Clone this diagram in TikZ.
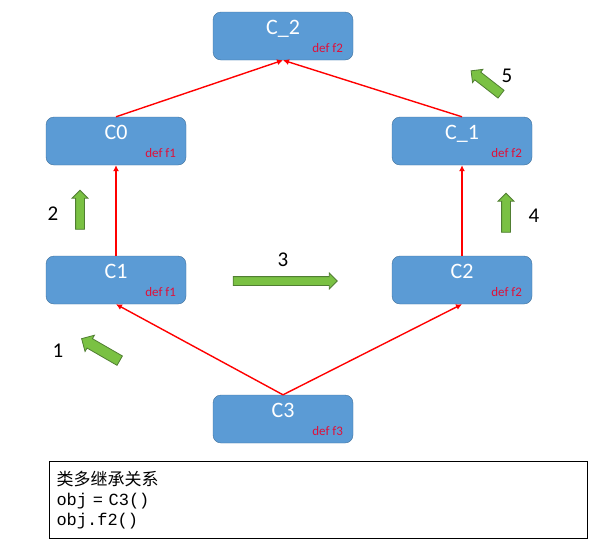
\documentclass[tikz,border=0pt]{standalone}
\usepackage{fontspec}
\setmainfont{Carlito}
\newfontfamily\cjk{Noto Sans CJK SC}
\newfontfamily\codefont{Liberation Mono}
\usetikzlibrary{positioning,arrows.meta,shapes.arrows}

\definecolor{boxfill}{HTML}{5B9BD5}
\definecolor{boxline}{HTML}{41719C}
\definecolor{arrowfill}{HTML}{7AC143}
\definecolor{arrowline}{HTML}{507E32}
\definecolor{defred}{HTML}{E0103A}

\tikzset{
  cls/.style={draw=boxline, fill=boxfill, rounded corners=8pt,
    minimum width=140pt, minimum height=48pt, text=white,
    font=\fontsize{22}{22}\selectfont, text height=15pt, text depth=19pt},
  deflbl/.style={anchor=south east, xshift=-10pt, yshift=7pt,
    text=defred, font=\fontsize{13}{13}\selectfont, inner sep=0pt},
  inherit/.style={->, red, line width=1.4pt},
  step arrow/.style={single arrow, draw=arrowline, fill=arrowfill,
    line width=0.8pt, inner xsep=0pt, inner ysep=4pt,
    single arrow head extend=3.5pt, single arrow tip angle=90,
    single arrow head indent=0pt},
  num/.style={font=\fontsize{21}{21}\selectfont}
}

\begin{document}
\begin{tikzpicture}[x=1pt, y=-1pt, >={Latex[length=6pt,width=6pt]}]
  \useasboundingbox (0,0) rectangle (598,542);

  % classes
  \node (c2top) [cls, label={[deflbl]south east:def f2}] at (283,36) {C\_2};
  \node (c0) [cls, label={[deflbl]south east:def f1}] at (116,141) {C0};
  \node (c1top) [cls, label={[deflbl]south east:def f2}] at (462,141) {C\_1};
  \node (c1) [cls, label={[deflbl]south east:def f1}] at (116,280) {C1};
  \node (c2) [cls, label={[deflbl]south east:def f2}] at (462,280) {C2};
  \node (c3) [cls, label={[deflbl]south east:def f3}] at (283,419) {C3};

  % inheritance
  \draw[inherit] (c3.north) -- (c1.south);
  \draw[inherit] (c3.north) -- (c2.south);
  \draw[inherit] (c1.north) -- (c0.south);
  \draw[inherit] (c2.north) -- (c1top.south);
  \draw[inherit] (c0.north) -- (c2top.south);
  \draw[inherit] (c1top.north) -- (c2top.south);

  % lookup order
  \node (s1) [step arrow, minimum height=44pt, inner ysep=5pt,
              single arrow head extend=4pt, rotate=150] at (103,351) {};
  \node (s2) [step arrow, minimum height=39pt, rotate=90] at (80,212) {};
  \node (s3) [step arrow, minimum height=104pt] at (283,281) {};
  \node (s4) [step arrow, minimum height=39pt, rotate=90] at (506,215) {};
  \node (s5) [step arrow, minimum height=38pt, inner ysep=4.5pt,
              rotate=142] at (488,84) {};

  \node (n1) [num] at (58,351) {1};
  \node (n2) [num] at (53,214) {2};
  \node (n3) [num] at (283,260) {3};
  \node (n4) [num] at (534,216) {4};
  \node (n5) [num] at (507,76) {5};

  % note
  \node (note) [draw, line width=1pt, anchor=north west, minimum width=538pt,
                minimum height=77pt, text width=524pt, align=left,
                inner xsep=7pt, font=\fontsize{17}{20}\selectfont]
    at (49,461)
    {{\cjk 类多继承关系}\\
     {\codefont obj = C3()}\\
     {\codefont obj.f2()}};
\end{tikzpicture}
\end{document}
